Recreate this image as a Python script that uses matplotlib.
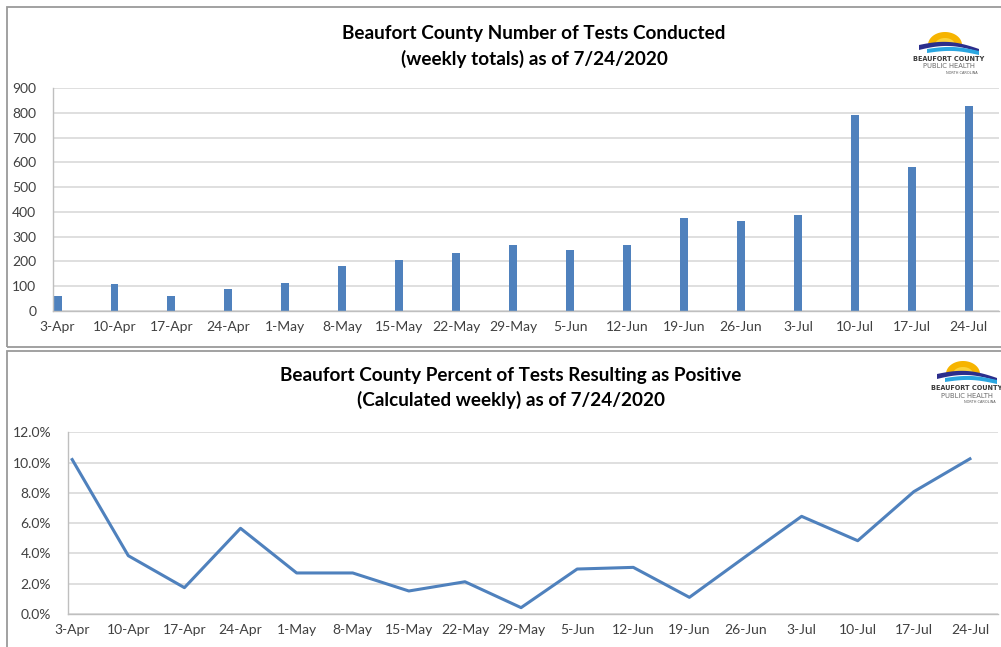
import numpy as np
import matplotlib
matplotlib.use('Agg')
import matplotlib.pyplot as plt
from matplotlib.patches import Rectangle, Polygon
from matplotlib.ticker import FuncFormatter, MultipleLocator

plt.rcParams['font.family'] = ['Lato', 'DejaVu Sans']

# data
weeks = ['3-Apr', '10-Apr', '17-Apr', '24-Apr', '1-May', '8-May', '15-May', '22-May',
         '29-May', '5-Jun', '12-Jun', '19-Jun', '26-Jun', '3-Jul', '10-Jul', '17-Jul', '24-Jul']
tests = [62, 108, 60, 90, 112, 183, 206, 234, 268, 246, 268, 377, 363, 389, 791, 581, 829]
pct_positive = [10.2, 3.85, 1.74, 5.66, 2.71, 2.71, 1.52, 2.13, 0.42, 2.97, 3.08,
                1.10, 3.79, 6.45, 4.84, 8.08, 10.25]

blue = '#4F81BD'
grid_c = '#D9D9D9'
txt_c = '#404040'
W, H = 1001, 647

fig = plt.figure(figsize=(W / 100, H / 100), dpi=100)


def fx(px):
    return px / W


def fy(py):
    return 1 - py / H


# panel frames
for (x0, y0, x1, y1) in [(7, 7, 1003, 347), (7, 351, 1003, 652)]:
    fig.patches.append(Rectangle((fx(x0), fy(y1)), fx(x1 - x0), fy(y0) - fy(y1),
                                 transform=fig.transFigure, fill=False,
                                 edgecolor='#9A9A9A', linewidth=1.3))


def draw_logo(x0, y0):
    # x0,y0 = top-left of logo in pixels, 64x50 px box, 1 unit = 1 px
    ax = fig.add_axes([fx(x0), fy(y0 + 50), fx(64), 50 / H])
    ax.set_xlim(0, 64)
    ax.set_ylim(50, 0)
    ax.axis('off')
    a = np.linspace(np.pi, 2 * np.pi, 50)
    ax.add_patch(Polygon(np.c_[28 + 17 * np.cos(a), 17 + 13 * np.sin(a)],
                         facecolor='#F6B400', edgecolor='none'))
    ax.add_patch(Polygon(np.c_[28 + 10 * np.cos(a), 17 + 7 * np.sin(a)],
                         facecolor='#FAD33C', edgecolor='none'))
    t = np.linspace(0, 1, 50)
    xs = 2 + 60 * t
    top = 17 - 4 * np.sin(np.pi * t) + 4 * t ** 2
    ax.add_patch(Polygon(np.concatenate([np.c_[xs, top], np.c_[xs[::-1], (top + 5 - 2 * t)[::-1]]]),
                         facecolor='#2B2E8C', edgecolor='none'))
    xs2 = 10 + 52 * t
    top2 = 21 - 3 * np.sin(np.pi * t) + 2 * t
    ax.add_patch(Polygon(np.concatenate([np.c_[xs2, top2], np.c_[xs2[::-1], (top2 + 4)[::-1]]]),
                         facecolor='#2AA6E0', edgecolor='none'))
    ax.text(32, 31, 'BEAUFORT COUNTY', ha='center', va='center', fontsize=4.7,
            fontweight='bold', color='#3A3A3A', family='DejaVu Sans')
    ax.text(32, 38.5, 'PUBLIC HEALTH', ha='center', va='center', fontsize=4.9,
            color='#6A6A6A', family='DejaVu Sans')
    ax.text(61, 45, 'NORTH CAROLINA', ha='right', va='center', fontsize=2.5,
            color='#555555', family='DejaVu Sans')


def style_axes(ax):
    ax.set_axisbelow(True)
    ax.grid(axis='y', color=grid_c, linewidth=1.2)
    for s in ['top', 'right']:
        ax.spines[s].set_visible(False)
    for s in ['left', 'bottom']:
        ax.spines[s].set_color('#BFBFBF')
        ax.spines[s].set_linewidth(1.0)
    ax.tick_params(length=0, labelsize=10, colors=txt_c, pad=7)
    ax.set_xticks(range(len(weeks)))
    ax.set_xticklabels(weeks)


x = np.arange(len(weeks))

# top chart: number of tests
ax1 = fig.add_axes([fx(53), fy(311), fx(999 - 53), fy(88) - fy(311)])
ax1.bar(x, tests, width=0.14, color=blue)
ax1.set_ylim(0, 900)
ax1.yaxis.set_major_locator(MultipleLocator(100))
ax1.set_xlim(-0.08, len(weeks) - 0.47)
style_axes(ax1)
ax1.tick_params(axis='y', pad=12)
fig.text(fx(534), fy(34), 'Beaufort County Number of Tests Conducted', ha='center',
         va='center', fontsize=13.6, fontweight='bold', color='black')
fig.text(fx(534), fy(59), '(weekly totals) as of 7/24/2020', ha='center',
         va='center', fontsize=13.6, fontweight='bold', color='black')
draw_logo(917, 28)

# bottom chart: percent positive
ax2 = fig.add_axes([fx(67.7), fy(614), fx(998 - 67.7), fy(432.3) - fy(614)])
ax2.plot(x, pct_positive, color=blue, linewidth=2.2)
ax2.set_ylim(0, 12)
ax2.yaxis.set_major_locator(MultipleLocator(2))
ax2.yaxis.set_major_formatter(FuncFormatter(lambda v, p: f'{v:.1f}%'))
ax2.set_xlim(-0.08, len(weeks) - 0.5)
style_axes(ax2)
ax2.tick_params(axis='y', pad=12)
fig.text(fx(511), fy(376), 'Beaufort County Percent of Tests Resulting as Positive', ha='center',
         va='center', fontsize=13.6, fontweight='bold', color='black')
fig.text(fx(511), fy(400), '(Calculated weekly) as of 7/24/2020', ha='center',
         va='center', fontsize=13.6, fontweight='bold', color='black')
draw_logo(935, 357)

fig.savefig('out.png', dpi=100)
